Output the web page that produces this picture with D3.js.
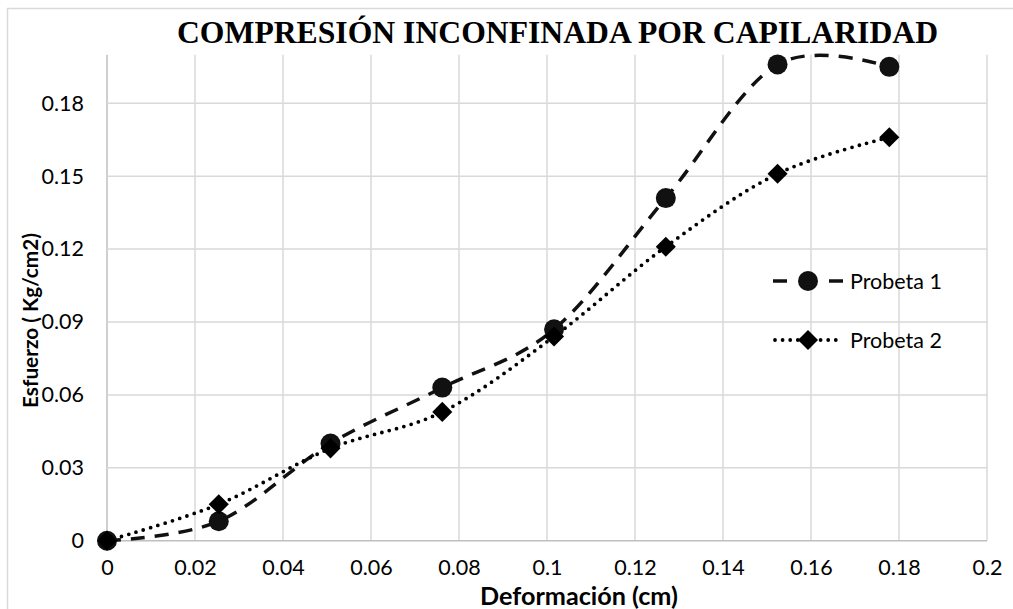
<!DOCTYPE html>
<html>
<head>
<meta charset="utf-8">
<script src="https://cdn.jsdelivr.net/npm/d3@7"></script>
<style>
  html, body { margin: 0; padding: 0; background: #fff; }
  svg { display: block; }
</style>
</head>
<body>
<svg id="chart" width="1013" height="609"></svg>
<script>
// ---- data ----
const deformacion = [0, 0.0254, 0.0508, 0.0762, 0.1016, 0.127, 0.1524, 0.1778];
const probeta1 = [0, 0.008, 0.040, 0.063, 0.087, 0.141, 0.196, 0.195];
const probeta2 = [0, 0.015, 0.038, 0.053, 0.084, 0.121, 0.151, 0.166];
const seriesNames = ["Probeta 1", "Probeta 2"];
const xTicks = [0, 0.02, 0.04, 0.06, 0.08, 0.1, 0.12, 0.14, 0.16, 0.18, 0.2];
const yTicks = [0, 0.03, 0.06, 0.09, 0.12, 0.15, 0.18];
const titleText = "COMPRESIÓN INCONFINADA POR CAPILARIDAD";
const xTitle = "Deformación (cm)";
const yTitle = "Esfuerzo ( Kg/cm2)";

const svg = d3.select("#chart");
const font = "Lato, 'Open Sans', sans-serif";

// outer chart border
svg.append("rect").attr("x", 7.5).attr("y", 8.5).attr("width", 1020).attr("height", 620)
  .attr("fill", "none").attr("stroke", "#d9d9d9").attr("stroke-width", 1.5);

const x = d3.scaleLinear().domain([0, 0.2]).range([107, 987]);
const y = d3.scaleLinear().domain([0, 0.2]).range([540.7, 54.7]);

// gridlines
const grid = svg.append("g");
grid.selectAll("line.v").data(xTicks).join("line")
  .attr("x1", d => x(d)).attr("x2", d => x(d))
  .attr("y1", y(0.2)).attr("y2", y(0))
  .attr("stroke", d => d === 0 ? "#bfbfbf" : "#d9d9d9").attr("stroke-width", 1.5);
grid.selectAll("line.h").data(yTicks).join("line")
  .attr("x1", x(0)).attr("x2", x(0.2))
  .attr("y1", d => y(d)).attr("y2", d => y(d))
  .attr("stroke", d => d === 0 ? "#bfbfbf" : "#d9d9d9").attr("stroke-width", 1.5);

// axes tick labels via d3 axes
const fmt = d => String(+d.toFixed(2));
const xAxis = svg.append("g").attr("transform", `translate(0,${y(0)})`)
  .call(d3.axisBottom(x).tickValues(xTicks).tickFormat(fmt).tickSize(0).tickPadding(31));
const yAxis = svg.append("g").attr("transform", `translate(${x(0)},0)`)
  .call(d3.axisLeft(y).tickValues(yTicks).tickFormat(fmt).tickSize(0).tickPadding(23));
[xAxis, yAxis].forEach(a => {
  a.select(".domain").remove();
  a.selectAll("text").attr("font-family", font).attr("font-size", 21.5).attr("fill", "#000");
});
xAxis.selectAll("text").attr("dy", null).attr("y", 34.5);

// title
svg.append("text").attr("x", 557.5).attr("y", 43).attr("text-anchor", "middle")
  .attr("font-family", "'Liberation Serif', 'Times New Roman', serif")
  .attr("font-weight", "bold").attr("font-size", 32)
  .attr("textLength", 761).attr("lengthAdjust", "spacingAndGlyphs")
  .text(titleText);

// axis titles, sized to fit the measured width
function fitText(sel, target) {
  const w = sel.node().getComputedTextLength();
  const fs = +sel.attr("font-size");
  sel.attr("font-size", fs * target / w);
}
const xt = svg.append("text").attr("x", 579).attr("y", 605).attr("text-anchor", "middle")
  .attr("font-family", font).attr("font-weight", "bold").attr("font-size", 21)
  .text(xTitle);
fitText(xt, 198);
const yt = svg.append("text").attr("transform", "translate(38,320.5) rotate(-90)")
  .attr("text-anchor", "middle")
  .attr("font-family", font).attr("font-weight", "bold").attr("font-size", 21)
  .text(yTitle);
fitText(yt, 175);

// lines
const line = d3.line().x(d => x(d[0])).y(d => y(d[1])).curve(d3.curveCardinal.tension(0));
const d1 = deformacion.map((d, i) => [d, probeta1[i]]);
const d2 = deformacion.map((d, i) => [d, probeta2[i]]);

svg.append("path").datum(d1).attr("d", line).attr("fill", "none")
  .attr("stroke", "#111").attr("stroke-width", 3.5).attr("stroke-dasharray", "14 10");
svg.append("path").datum(d2).attr("d", line).attr("fill", "none")
  .attr("stroke", "#000").attr("stroke-width", 3.8).attr("stroke-linecap", "round")
  .attr("stroke-dasharray", "0 7.6");

const circ = d3.symbol().type(d3.symbolCircle).size(Math.PI * 10 * 10);
const diam = d3.symbol().type(d3.symbolSquare).size(14.2 * 14.2);

svg.append("g").selectAll("path").data(d1).join("path")
  .attr("d", circ).attr("transform", d => `translate(${x(d[0])},${y(d[1])})`)
  .attr("fill", "#111");
svg.append("g").selectAll("path").data(d2).join("path")
  .attr("d", diam).attr("transform", d => `translate(${x(d[0])},${y(d[1])}) rotate(45)`)
  .attr("fill", "#000");

// legend
const lg = svg.append("g");
const lx0 = 773, lx1 = 843, lmx = 808;
const ly = [281, 340];
lg.append("line").attr("x1", lx0).attr("x2", lx1).attr("y1", ly[0]).attr("y2", ly[0])
  .attr("stroke", "#111").attr("stroke-width", 3.5).attr("stroke-dasharray", "14 42 14");
lg.append("path").attr("d", circ).attr("transform", `translate(${lmx},${ly[0]})`).attr("fill", "#111");
lg.append("line").attr("x1", lx0 + 2).attr("x2", lx1).attr("y1", ly[1]).attr("y2", ly[1])
  .attr("stroke", "#000").attr("stroke-width", 3.8).attr("stroke-linecap", "round")
  .attr("stroke-dasharray", "0 7.6");
lg.append("path").attr("d", diam).attr("transform", `translate(${lmx},${ly[1]}) rotate(45)`).attr("fill", "#000");
lg.selectAll("text").data(seriesNames).join("text")
  .attr("x", 850).attr("y", (d, i) => ly[i]).attr("dy", "0.36em")
  .attr("font-family", font).attr("font-size", 21.5).attr("fill", "#000")
  .text(d => d);
</script>
</body>
</html>
